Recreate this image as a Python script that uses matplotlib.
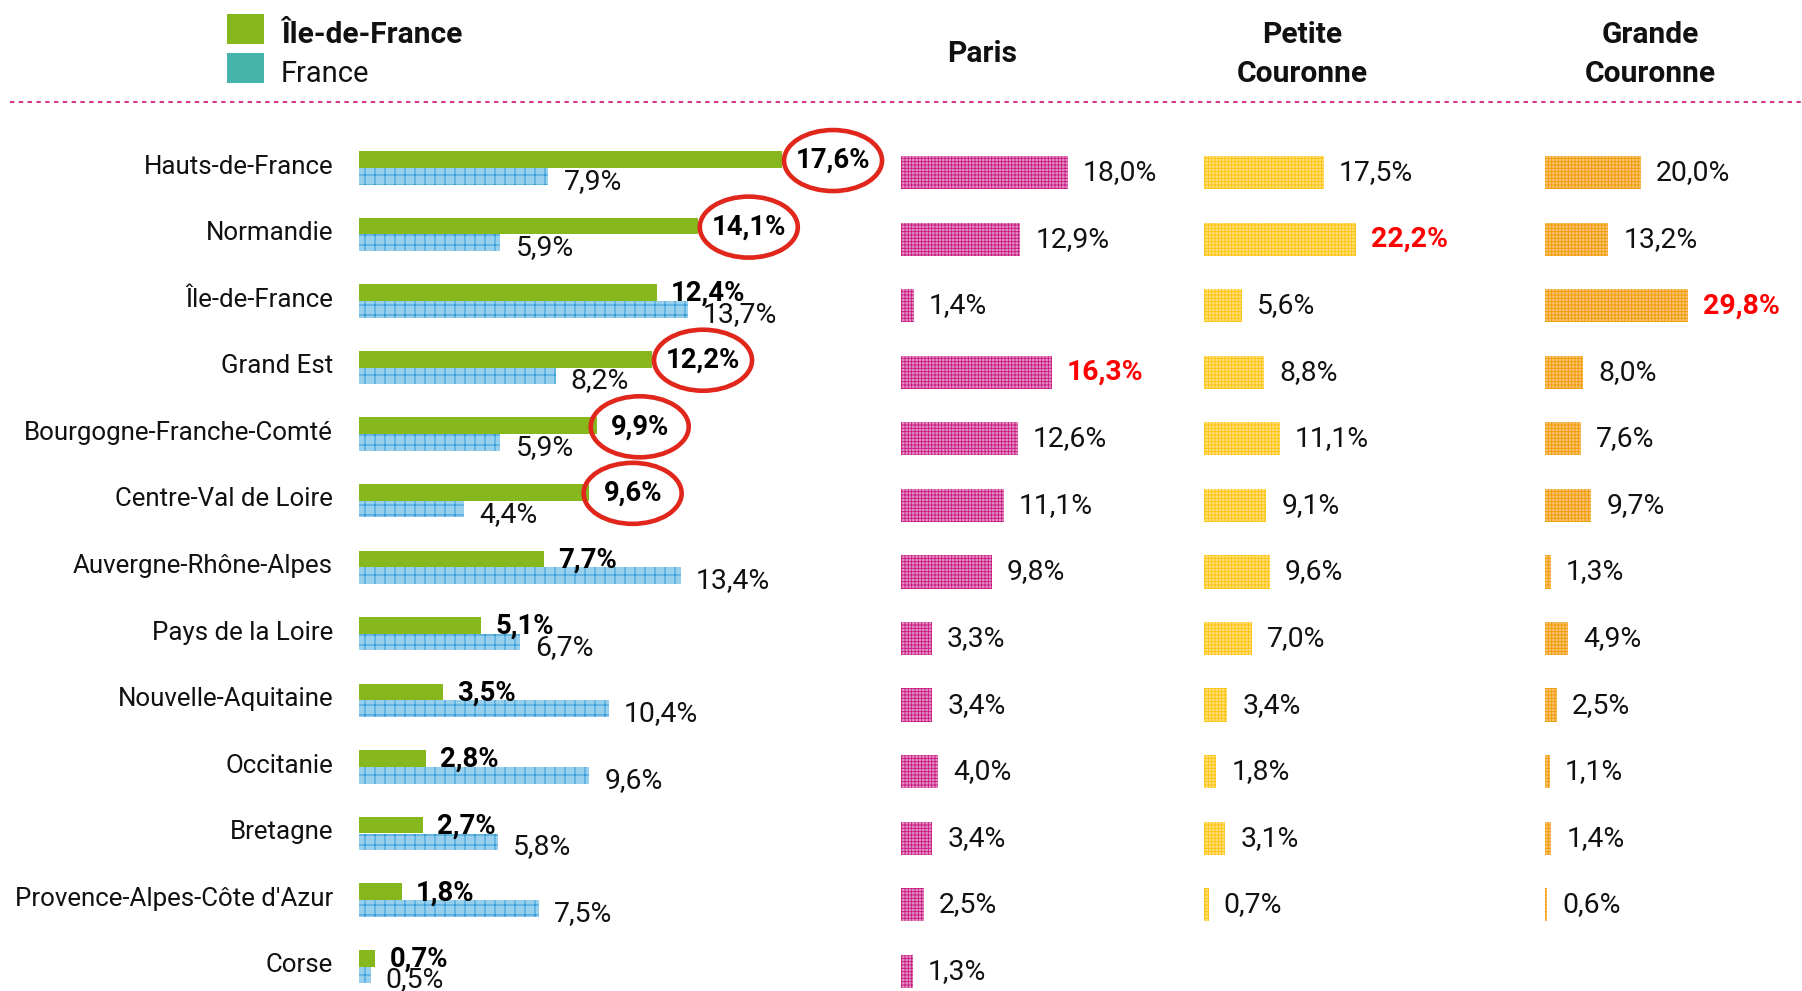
import numpy as np
import matplotlib
matplotlib.use("Agg")
import matplotlib.pyplot as plt
from matplotlib.font_manager import FontProperties
from matplotlib.patches import Rectangle, Ellipse
from matplotlib.lines import Line2D

# ---------------- data ----------------
regions = ["Hauts-de-France", "Normandie", "Île-de-France", "Grand Est",
           "Bourgogne-Franche-Comté", "Centre-Val de Loire", "Auvergne-Rhône-Alpes",
           "Pays de la Loire", "Nouvelle-Aquitaine", "Occitanie", "Bretagne",
           "Provence-Alpes-Côte d'Azur", "Corse"]
idf_values = [17.6, 14.1, 12.4, 12.2, 9.9, 9.6, 7.7, 5.1, 3.5, 2.8, 2.7, 1.8, 0.7]
france_values = [7.9, 5.9, 13.7, 8.2, 5.9, 4.4, 13.4, 6.7, 10.4, 9.6, 5.8, 7.5, 0.5]
paris_values = [18.0, 12.9, 1.4, 16.3, 12.6, 11.1, 9.8, 3.3, 3.4, 4.0, 3.4, 2.5, 1.3]
petite_couronne_values = [17.5, 22.2, 5.6, 8.8, 11.1, 9.1, 9.6, 7.0, 3.4, 1.8, 3.1, 0.7, np.nan]
grande_couronne_values = [20.0, 13.2, 29.8, 8.0, 7.6, 9.7, 1.3, 4.9, 2.5, 1.1, 1.4, 0.6, np.nan]
circled_regions = ["Hauts-de-France", "Normandie", "Grand Est",
                   "Bourgogne-Franche-Comté", "Centre-Val de Loire"]
highlight_paris = "Grand Est"
highlight_petite = "Normandie"
highlight_grande = "Île-de-France"
legend_labels = ["Île-de-France", "France"]
panel_titles = ["Paris", "Petite\nCouronne", "Grande\nCouronne"]

# ---------------- fonts ----------------
def fp(size, bold=False):
    return FontProperties(family="Roboto", weight="bold" if bold else "normal", size=size)

# ---------------- figure geometry ----------------
W, H = 1802, 991
DPI = 60
PT = 72.0 / DPI  # points per pixel
fig = plt.figure(figsize=(W / DPI, H / DPI), dpi=DPI)
plt.rcParams["hatch.linewidth"] = 1.0

N = len(regions)
ROW0, ROWH = 166.6, 66.56

def make_axes(x0, xmax, pxper):
    top = ROW0 - 0.5 * ROWH
    height = N * ROWH
    ax = fig.add_axes([x0 / W, (H - top - height) / H, xmax * pxper / W, height / H])
    ax.set_xlim(0, xmax)
    ax.set_ylim(N - 0.5, -0.5)
    ax.axis("off")
    return ax

def fmt(v):
    return f"{v:.1f}".replace(".", ",") + "%"

GREEN = "#86b81e"
TEAL = "#45b5ab"
BLUE_FACE, BLUE_HATCH = "#97cfec", "#1f92d4"
PINK_FACE, PINK_HATCH = "#e48fc3", "#c8177f"
YEL_FACE, YEL_HATCH = "#ffe07a", "#ffc107"
ORA_FACE, ORA_HATCH = "#f8c270", "#f09a00"
RED_TXT = "#ff0000"
RED_CIRCLE = "#e1261c"
TXT = "#111111"

y = np.arange(N)

# ---------------- left panel ----------------
L_PX = 24.05
axL = make_axes(358.5, 18.5, L_PX)
axL.barh(y - 0.106, idf_values, height=0.25, color=GREEN, linewidth=0)
axL.barh(y + 0.145, france_values, height=0.25, facecolor=BLUE_FACE,
         edgecolor=BLUE_HATCH, hatch="+", linewidth=0)

VAL_FS = 34
BOLD_FS = 33
REG_FS = 31
green_texts = {}
for i, r in enumerate(regions):
    axL.annotate(r, xy=(0, i), xytext=(-25.5 * PT, 0), textcoords="offset points",
                 ha="right", va="center", fontproperties=fp(REG_FS), color=TXT)
    t = axL.annotate(fmt(idf_values[i]), xy=(idf_values[i], i - 0.106),
                     xytext=(14 * PT, -1 * PT), textcoords="offset points",
                     ha="left", va="center", fontproperties=fp(BOLD_FS, True), color="black")
    green_texts[r] = t
    axL.annotate(fmt(france_values[i]), xy=(france_values[i], i + 0.145),
                 xytext=(15 * PT, -5 * PT), textcoords="offset points",
                 ha="left", va="center", fontproperties=fp(VAL_FS), color=TXT)

# ---------------- right panels ----------------
def right_panel(x0, xmax, pxper, values, face, hatch_c, highlight):
    ax = make_axes(x0, xmax, pxper)
    vals = np.array(values, dtype=float)
    ok = ~np.isnan(vals)
    ax.barh(y[ok] + 0.09, vals[ok], height=0.5, facecolor=face, edgecolor=hatch_c,
            hatch="+++", linewidth=0)
    for i in y[ok]:
        hl = regions[i] == highlight
        ax.annotate(fmt(vals[i]), xy=(vals[i], i + 0.09), xytext=(15 * PT, 0),
                    textcoords="offset points", ha="left", va="center",
                    fontproperties=fp(VAL_FS, hl), color=RED_TXT if hl else TXT)
    return ax

right_panel(901, 20, 9.26, paris_values, PINK_FACE, PINK_HATCH, highlight_paris)
right_panel(1204, 25, 6.83, petite_couronne_values, YEL_FACE, YEL_HATCH, highlight_petite)
right_panel(1544.5, 32, 4.83, grande_couronne_values, ORA_FACE, ORA_HATCH, highlight_grande)

# ---------------- headers / legend / separator ----------------
def fx(xp):
    return xp / W

def fy(yp):
    return 1 - yp / H

HDR_FS = 36
fig.text(fx(982.5), fy(62), panel_titles[0], ha="center", va="baseline",
         fontproperties=fp(HDR_FS, True), color=TXT)
for title, xc in zip(panel_titles[1:], [1302, 1650]):
    for line, base in zip(title.split("\n"), [43, 82]):
        fig.text(fx(xc), fy(base), line, ha="center", va="baseline",
                 fontproperties=fp(HDR_FS, True), color=TXT)

for k, (lab, col, top, base) in enumerate(zip(legend_labels, [GREEN, TEAL], [14, 53], [43, 82])):
    fig.add_artist(Rectangle((fx(227.5), fy(top + 30)), 36.5 / W, 30 / H,
                             transform=fig.transFigure, facecolor=col, edgecolor="none"))
    fig.text(fx(281), fy(base), lab, ha="left", va="baseline",
             fontproperties=fp(HDR_FS if k == 0 else 35, k == 0), color=TXT)

fig.add_artist(Line2D([fx(10), 1], [fy(102), fy(102)], transform=fig.transFigure,
                      color="#d6378e", linewidth=2 * PT, linestyle=(0, (2.2, 2.2))))

# ---------------- red circles around highlighted Île-de-France values ----------------
fig.canvas.draw()
renderer = fig.canvas.get_renderer()
inv = axL.transData.inverted()
for r in circled_regions:
    bb = green_texts[r].get_window_extent(renderer)
    cx, cy = inv.transform(((bb.x0 + bb.x1) / 2, (bb.y0 + bb.y1) / 2))
    axL.add_patch(Ellipse((cx, cy), 98 / L_PX, 61 / ROWH, fill=False,
                          edgecolor=RED_CIRCLE, linewidth=4.6 * PT, clip_on=False, zorder=5))

fig.savefig("out.png", dpi=DPI)
